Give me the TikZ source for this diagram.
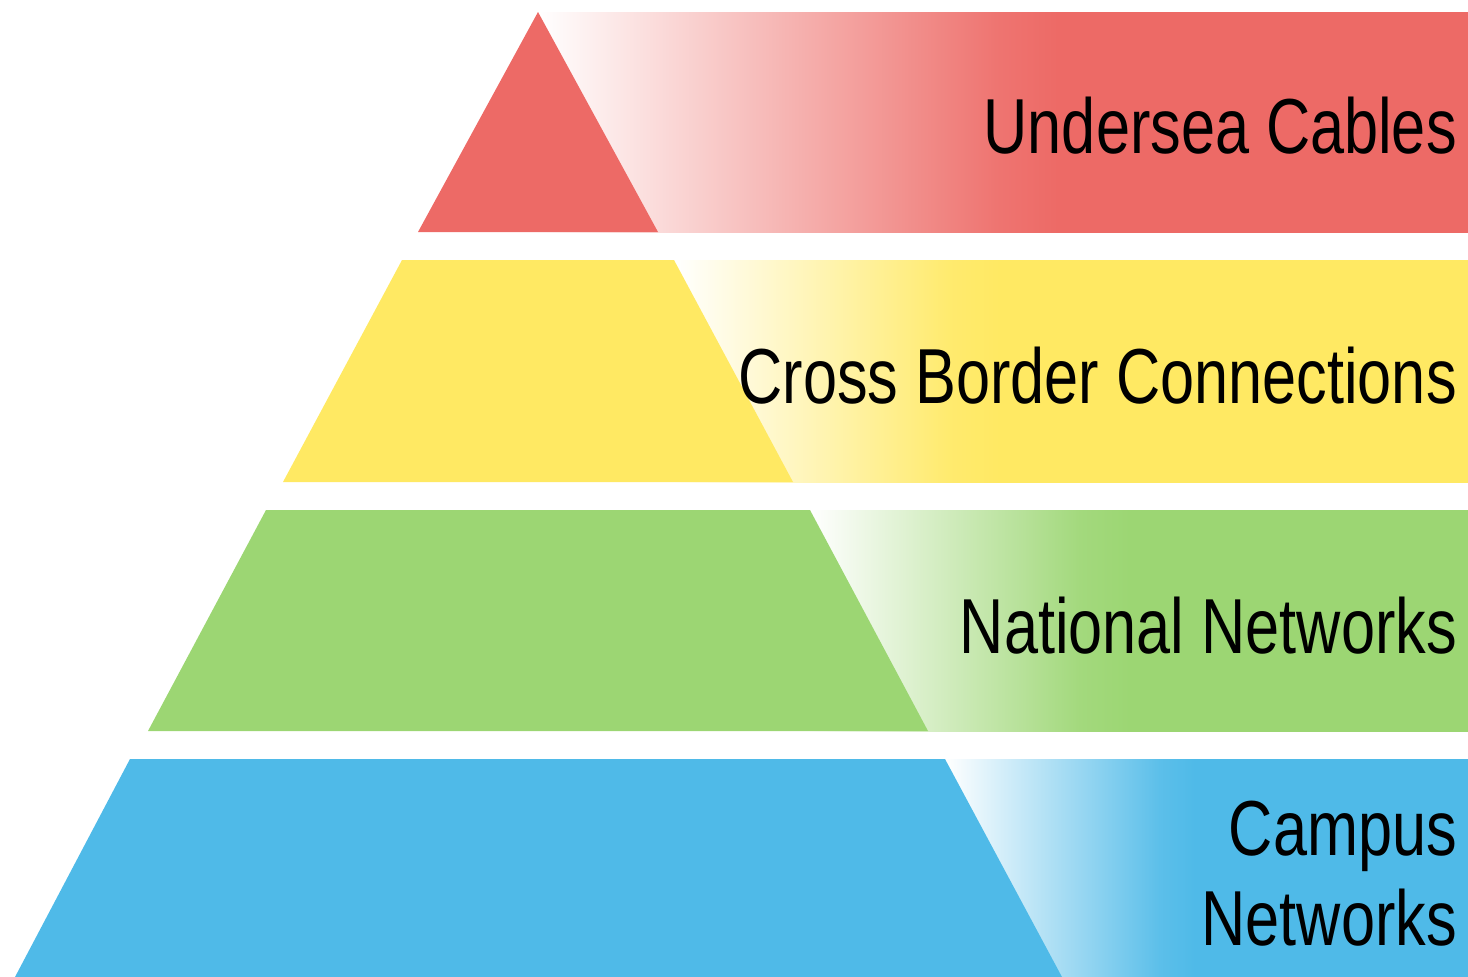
\documentclass[tikz,border=0pt]{standalone}
\usepackage{fontspec}
\setmainfont[FakeStretch=0.785]{Liberation Sans}
\definecolor{cRed}{RGB}{237,106,102}
\definecolor{cYel}{RGB}{255,233,99}
\definecolor{cGrn}{RGB}{156,214,115}
\definecolor{cBlu}{RGB}{79,186,232}
\colorlet{rC}{cRed!93!white}
\colorlet{yC}{cYel!93!white}
\colorlet{gC}{cGrn!93!white}
\colorlet{bC}{cBlu!93!white}
\pgfdeclarehorizontalshading{redband}{100bp}{color(0bp)=(white); color(25bp)=(white); color(49.7bp)=(rC); color(53bp)=(cRed); color(100bp)=(cRed)}
\pgfdeclarehorizontalshading{yelband}{100bp}{color(0bp)=(white); color(25bp)=(white); color(42.4bp)=(yC); color(45.5bp)=(cYel); color(100bp)=(cYel)}
\pgfdeclarehorizontalshading{grnband}{100bp}{color(0bp)=(white); color(25bp)=(white); color(45.5bp)=(gC); color(49.3bp)=(cGrn); color(100bp)=(cGrn)}
\pgfdeclarehorizontalshading{bluband}{100bp}{color(0bp)=(white); color(25bp)=(white); color(45.6bp)=(bC); color(48.9bp)=(cBlu); color(100bp)=(cBlu)}
\begin{document}
\begin{tikzpicture}[x=1pt,y=-1pt,
  lbl/.style={inner sep=0pt,anchor=base east,font=\fontsize{78}{92}\selectfont,text=black}]
\useasboundingbox (0,0) rectangle (1468,977);
% red layer
\shade[shading=redband] (538,12) rectangle (1468,232);
\fill[cRed] (538,12) -- (658,232) -- (418,232) -- cycle;
% yellow layer
\shade[shading=yelband] (674,260) rectangle (1468,482);
\fill[cYel] (402,260) -- (674,260) -- (793,482) -- (283,482) -- cycle;
% green layer
\shade[shading=grnband] (810,510) rectangle (1468,731);
\fill[cGrn] (266,510) -- (810,510) -- (928,731) -- (148,731) -- cycle;
% blue layer
\shade[shading=bluband] (945,759) rectangle (1468,977);
\fill[cBlu] (130,759) -- (945,759) -- (1062,977) -- (15,977) -- cycle;
% labels
\node[lbl] (under) at (1457,153) {Undersea Cables};
\node[lbl] (cross) at (1457,403) {Cross Border Connections};
\node[lbl] (natl) at (1457,653) {National Networks};
\node[lbl] (camp1) at (1457,855) {Campus};
\node[lbl] (camp2) at (1457,945) {Networks};
\end{tikzpicture}
\end{document}
